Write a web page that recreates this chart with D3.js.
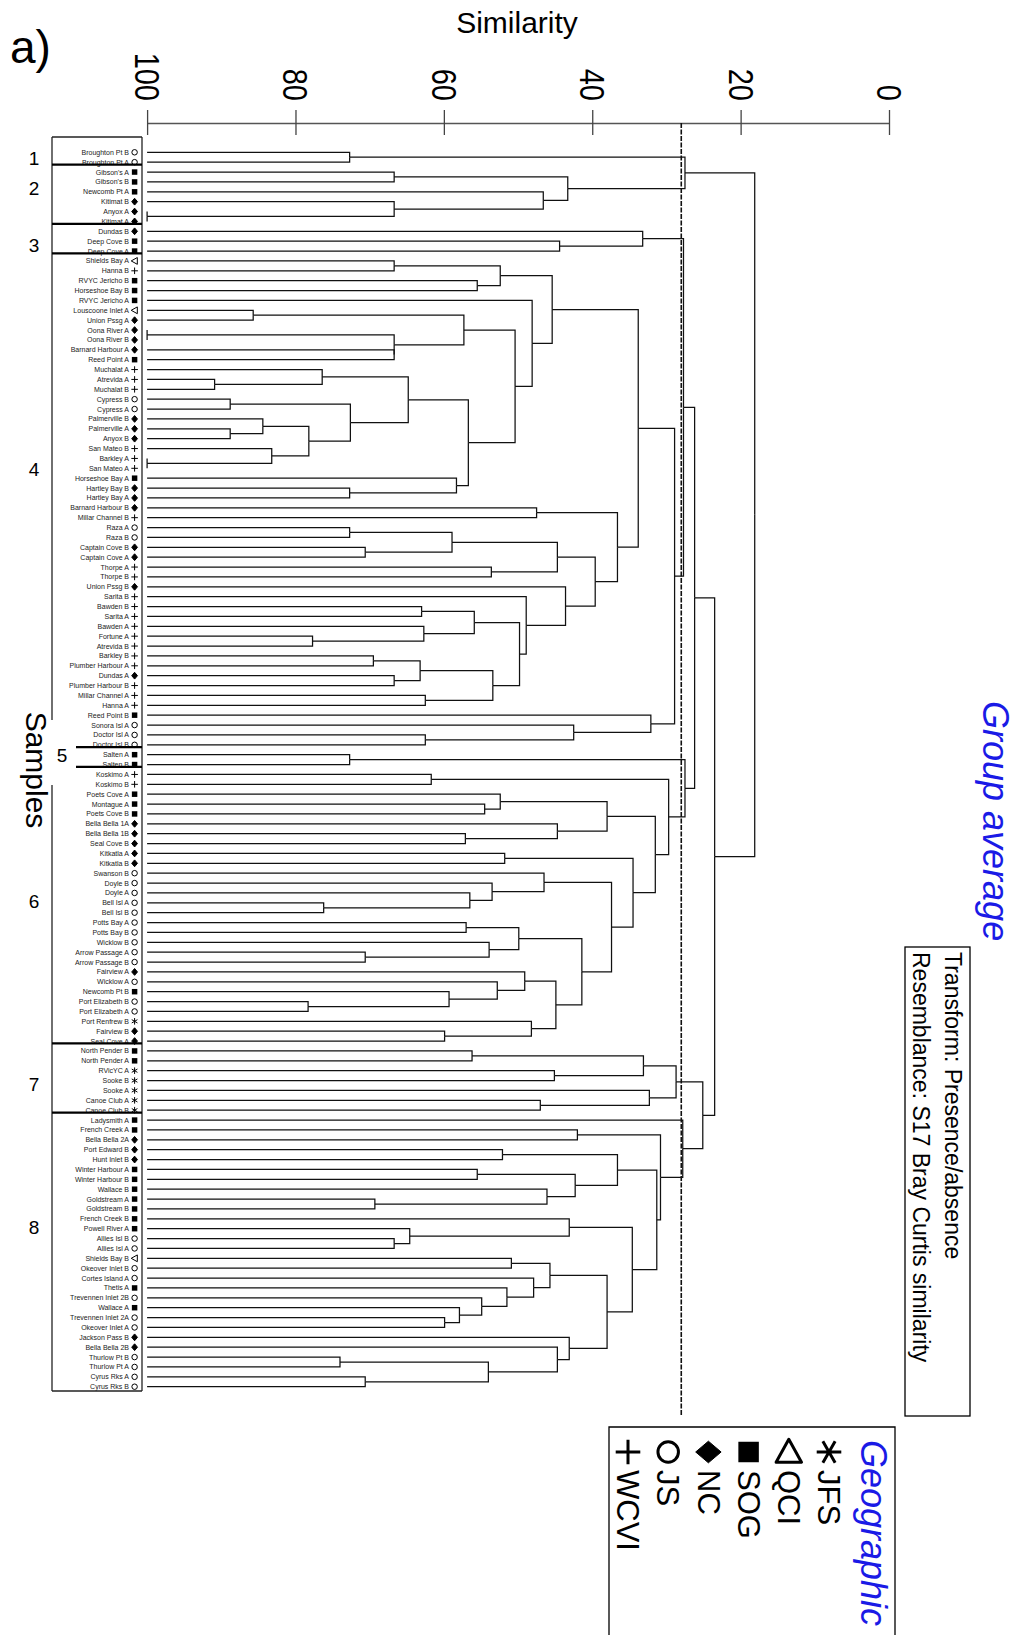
<!DOCTYPE html>
<html>
<head>
<meta charset="utf-8">
<script src="https://cdn.jsdelivr.net/npm/d3@7"></script>
<style>
  body { margin: 0; background: #fff; }
  svg { display: block; }
  text { font-family: "Liberation Sans", Arial, sans-serif; }
</style>
</head>
<body>
<div id="chart"></div>
<script>
// ---- Samples, in dendrogram order (top to bottom) ----
const sampleNames = [
  "Broughton Pt B","Broughton Pt A","Gibson's A","Gibson's B","Newcomb Pt A","Kitimat B","Anyox A","Kitimat A",
  "Dundas B","Deep Cove B","Deep Cove A",
  "Shields Bay A","Hanna B","RVYC Jericho B","Horseshoe Bay B","RVYC Jericho A","Louscoone Inlet A","Union Pssg A",
  "Oona River A","Oona River B","Barnard Harbour A","Reed Point A","Muchalat A","Atrevida A","Muchalat B",
  "Cypress B","Cypress A","Palmerville B","Palmerville A","Anyox B","San Mateo B","Barkley A","San Mateo A",
  "Horseshoe Bay A","Hartley Bay B","Hartley Bay A","Barnard Harbour B","Millar Channel B","Raza A","Raza B",
  "Captain Cove B","Captain Cove A","Thorpe A","Thorpe B","Union Pssg B","Sarita B","Bawden B","Sarita A",
  "Bawden A","Fortune A","Atrevida B","Barkley B","Plumber Harbour A","Dundas A","Plumber Harbour B",
  "Millar Channel A","Hanna A","Reed Point B","Sonora Isl A","Doctor Isl A","Doctor Isl B",
  "Salten A","Salten B",
  "Koskimo A","Koskimo B","Poets Cove A","Montague A","Poets Cove B","Bella Bella 1A","Bella Bella 1B",
  "Seal Cove B","Kitkatla A","Kitkatla B","Swanson B","Doyle B","Doyle A","Bell Isl A","Bell Isl B",
  "Potts Bay A","Potts Bay B","Wicklow B","Arrow Passage A","Arrow Passage B","Fairview A","Wicklow A",
  "Newcomb Pt B","Port Elizabeth B","Port Elizabeth A","Port Renfrew B","Fairview B","Seal Cove A",
  "North Pender B","North Pender A","RVicYC A","Sooke B","Sooke A","Canoe Club A","Canoe Club B",
  "Ladysmith A","French Creek A","Bella Bella 2A","Port Edward B","Hunt Inlet B","Winter Harbour A",
  "Winter Harbour B","Wallace B","Goldstream A","Goldstream B","French Creek B","Powell River A",
  "Allies Isl B","Allies Isl A","Shields Bay B","Okeover Inlet B","Cortes Island A","Thetis A",
  "Trevennen Inlet 2B","Wallace A","Trevennen Inlet 2A","Okeover Inlet A","Jackson Pass B","Bella Bella 2B",
  "Thurlow Pt B","Thurlow Pt A","Cyrus Rks A","Cyrus Rks B"
];

// Geographic region of each sample
const sampleRegions = [
  "JS","JS","SOG","SOG","SOG","NC","NC","NC",
  "NC","SOG","SOG",
  "QCI","WCVI","SOG","SOG","SOG","QCI","NC",
  "NC","NC","NC","SOG","WCVI","WCVI","WCVI",
  "JS","JS","NC","NC","NC","WCVI","WCVI","WCVI",
  "SOG","NC","NC","NC","WCVI","JS","JS",
  "NC","NC","WCVI","WCVI","NC","WCVI","WCVI","WCVI",
  "WCVI","WCVI","WCVI","WCVI","WCVI","NC","WCVI",
  "WCVI","WCVI","SOG","JS","JS","JS",
  "SOG","SOG",
  "WCVI","WCVI","SOG","SOG","SOG","NC","NC",
  "NC","NC","NC","JS","JS","JS","JS","JS",
  "JS","JS","JS","JS","JS","NC","JS",
  "SOG","JS","JS","JFS","NC","NC",
  "SOG","SOG","JFS","JFS","JFS","JFS","JFS",
  "SOG","SOG","NC","NC","NC","SOG",
  "SOG","SOG","SOG","SOG","SOG","SOG",
  "JS","JS","QCI","JS","JS","SOG",
  "JS","SOG","JS","JS","NC","NC",
  "JS","JS","JS","JS"
];

// Agglomeration steps: [upper member, lower member, % similarity].
// A number is a sample index, "mK" is the cluster formed at step K.
const merges = [
  [0, 1, 72.7],            // m0
  [2, 3, 66.7],            // m1
  [6, 7, 100],             // m2
  [5, "m2", 66.7],         // m3
  [4, "m3", 46.6],         // m4
  ["m1", "m4", 43.3],      // m5
  ["m0", "m5", 27.5],      // m6
  [9, 10, 44.4],           // m7
  [8, "m7", 33.2],         // m8
  [11, 12, 66.7],          // m9
  [13, 14, 55.5],          // m10
  ["m9", "m10", 52.4],     // m11
  [16, 17, 85.7],          // m12
  [18, 19, 100],           // m13
  [20, 21, 66.7],          // m14
  ["m13", "m14", 66.7],    // m15
  ["m12", "m15", 57.3],    // m16
  [23, 24, 90.9],          // m17
  [22, "m17", 76.4],       // m18
  [25, 26, 88.8],          // m19
  [28, 29, 88.8],          // m20
  [27, "m20", 84.4],       // m21
  [31, 32, 100],           // m22
  [30, "m22", 83.2],       // m23
  ["m21", "m23", 78.2],    // m24
  ["m19", "m24", 72.6],    // m25
  ["m18", "m25", 64.8],    // m26
  [34, 35, 72.7],          // m27
  [33, "m27", 58.3],       // m28
  ["m26", "m28", 56.7],    // m29
  ["m16", "m29", 50.4],    // m30
  [15, "m30", 48.1],       // m31
  ["m11", "m31", 45.4],    // m32
  [36, 37, 47.5],          // m33
  [38, 39, 72.7],          // m34
  [40, 41, 70.6],          // m35
  ["m34", "m35", 58.9],    // m36
  [42, 43, 53.6],          // m37
  ["m36", "m37", 44.7],    // m38
  [46, 47, 63.0],          // m39
  [49, 50, 77.7],          // m40
  [48, "m40", 62.7],       // m41
  ["m39", "m41", 55.9],    // m42
  [51, 52, 69.5],          // m43
  [53, 54, 66.7],          // m44
  ["m43", "m44", 63.2],    // m45
  [55, 56, 62.5],          // m46
  ["m45", "m46", 53.4],    // m47
  ["m42", "m47", 49.8],    // m48
  [45, "m48", 48.9],       // m49
  [44, "m49", 43.6],       // m50
  ["m38", "m50", 39.6],    // m51
  ["m33", "m51", 36.6],    // m52
  ["m32", "m52", 33.8],    // m53
  [59, 60, 62.5],          // m54
  [58, "m54", 42.5],       // m55
  [57, "m55", 32.1],       // m56
  ["m53", "m56", 28.9],    // m57
  ["m8", "m57", 27.7],     // m58
  [61, 62, 72.7],          // m59
  [63, 64, 61.7],          // m60
  [66, 67, 54.5],          // m61
  [65, "m61", 52.4],       // m62
  [69, 70, 57.1],          // m63
  [68, "m63", 44.7],       // m64
  ["m62", "m64", 38.0],    // m65
  [71, 72, 51.8],          // m66
  [76, 77, 76.2],          // m67
  [75, "m67", 56.5],       // m68
  [74, "m68", 53.5],       // m69
  [73, "m69", 46.5],       // m70
  [78, 79, 57.0],          // m71
  [81, 82, 70.6],          // m72
  [80, "m72", 53.9],       // m73
  ["m71", "m73", 49.9],    // m74
  [86, 87, 78.3],          // m75
  [85, "m75", 59.3],       // m76
  [84, "m76", 52.8],       // m77
  [83, "m77", 49.1],       // m78
  [89, 90, 59.9],          // m79
  [88, "m79", 48.2],       // m80
  ["m78", "m80", 44.9],    // m81
  ["m74", "m81", 41.4],    // m82
  ["m70", "m82", 37.4],    // m83
  ["m66", "m83", 34.5],    // m84
  ["m65", "m84", 31.5],    // m85
  ["m60", "m85", 29.7],    // m86
  ["m59", "m86", 27.5],    // m87
  ["m58", "m87", 26.2],    // m88
  [91, 92, 56.2],          // m89
  [93, 94, 45.1],          // m90
  ["m89", "m90", 33.1],    // m91
  [96, 97, 47.0],          // m92
  [95, "m92", 32.3],       // m93
  ["m91", "m93", 28.7],    // m94
  [99, 100, 42.0],         // m95
  [101, 102, 52.1],        // m96
  [103, 104, 55.5],        // m97
  [106, 107, 69.3],        // m98
  [105, "m98", 46.1],      // m99
  ["m97", "m99", 42.3],    // m100
  ["m96", "m100", 36.6],   // m101
  [110, 111, 66.7],        // m102
  [109, "m102", 64.6],     // m103
  [108, "m103", 43.1],     // m104
  [112, 113, 50.9],        // m105
  [118, 119, 59.9],        // m106
  [117, "m106", 57.9],     // m107
  [116, "m107", 54.9],     // m108
  [115, "m108", 51.5],     // m109
  [114, "m109", 47.9],     // m110
  ["m105", "m110", 45.7],  // m111
  [122, 123, 74.0],        // m112
  [124, 125, 70.6],        // m113
  ["m112", "m113", 54.0],  // m114
  [121, "m114", 44.7],     // m115
  [120, "m115", 43.1],     // m116
  ["m111", "m116", 38.0],  // m117
  ["m104", "m117", 34.6],  // m118
  ["m101", "m118", 31.3],  // m119
  ["m95", "m119", 30.8],   // m120
  [98, "m120", 27.8],      // m121
  ["m94", "m121", 25.1],   // m122
  ["m88", "m122", 23.5],   // m123
  ["m6", "m123", 18.1]     // m124
];

// Groups formed at the similarity cut
const groupNames = ["1", "2", "3", "4", "5", "6", "7", "8"];
const groupLastSample = [1, 7, 10, 60, 62, 90, 97, 125];
const groupLabelRow = [0.6, 3.6, 9.4, 32.1, 61.1, 75.9, 94.4, 108.9];
const cutSimilarity = 28;

const simTicks = [100, 80, 60, 40, 20, 0];
const regionCodes = ["JFS", "QCI", "SOG", "NC", "JS", "WCVI"];
const infoLines = ["Transform: Presence/absence", "Resemblance: S17 Bray Curtis similarity"];

// ---- Drawing ----
const W = 1016, H = 1635;
const BLUE = "#1a1ae6";
const svg = d3.select("#chart").append("svg").attr("width", W).attr("height", H);

const xSim = d3.scaleLinear().domain([100, 0]).range([147.1, 889]);
const yRow = d3.scalePoint().domain(d3.range(sampleNames.length)).range([152.3, 1386.7]);
const yRowLin = d3.scaleLinear().domain([0, sampleNames.length - 1]).range([152.3, 1386.7]);

// Marker shapes for the regions
const shapeTriangleLeft = {
  draw(ctx, size) {
    const r = Math.sqrt(size) * 0.62;
    ctx.moveTo(-r, 0); ctx.lineTo(r * 0.8, -r); ctx.lineTo(r * 0.8, r); ctx.closePath();
  }
};
const shapeCircle = { draw(ctx, size) { const r = Math.sqrt(size) * 0.5; ctx.moveTo(r, 0); ctx.arc(0, 0, r, 0, 2 * Math.PI); } };
const shapeSquare = { draw(ctx, size) { const h = Math.sqrt(size) * 0.5; ctx.rect(-h, -h, 2 * h, 2 * h); } };
const shapeDiamond = {
  draw(ctx, size) {
    const r = Math.sqrt(size) * 0.62;
    ctx.moveTo(0, -r); ctx.lineTo(r * 0.85, 0); ctx.lineTo(0, r); ctx.lineTo(-r * 0.85, 0); ctx.closePath();
  }
};
const shapePlus = {
  draw(ctx, size) {
    const r = Math.sqrt(size) * 0.6;
    ctx.moveTo(-r, 0); ctx.lineTo(r, 0); ctx.moveTo(0, -r); ctx.lineTo(0, r);
  }
};
const shapeAsterisk = {
  draw(ctx, size) {
    const r = Math.sqrt(size) * 0.6;
    ctx.moveTo(0, -r); ctx.lineTo(0, r);
    const dx = r * Math.cos(Math.PI / 6), dy = r * Math.sin(Math.PI / 6);
    ctx.moveTo(-dx, -dy); ctx.lineTo(dx, dy);
    ctx.moveTo(-dx, dy); ctx.lineTo(dx, -dy);
  }
};
const regionStyle = {
  JFS:  { type: shapeAsterisk, fill: "none", stroke: "#000" },
  QCI:  { type: shapeTriangleLeft, fill: "none", stroke: "#000" },
  SOG:  { type: shapeSquare, fill: "#000", stroke: "none" },
  NC:   { type: shapeDiamond, fill: "#000", stroke: "#000" },
  JS:   { type: shapeCircle, fill: "none", stroke: "#000" },
  WCVI: { type: shapePlus, fill: "none", stroke: "#000" }
};
function marker(sel, code, size, sw) {
  const st = regionStyle[code];
  sel.append("path")
    .attr("d", d3.symbol().type(st.type).size(size)())
    .attr("fill", st.fill).attr("stroke", st.stroke)
    .attr("stroke-width", st.fill === "none" ? sw : 1)
    .attr("stroke-linejoin", "round");
}

// ---- Panel letter and axis title ----
svg.append("text").attr("x", 10).attr("y", 63).attr("font-size", 46).text("a)");
svg.append("text").attr("x", 517).attr("y", 33).attr("text-anchor", "middle")
  .attr("font-size", 30).text("Similarity");

// ---- Similarity axis ----
const axisG = svg.append("g").attr("transform", "translate(0,123)")
  .call(d3.axisTop(xSim).tickValues(simTicks).tickSize(13).tickSizeOuter(0).tickFormat(d3.format("d")));
axisG.select(".domain").attr("stroke", "#555").attr("stroke-width", 1.6);
axisG.selectAll(".tick line").attr("y1", 12).attr("y2", -13).attr("stroke", "#444").attr("stroke-width", 1.3);
axisG.selectAll(".tick text")
  .attr("font-family", "'Liberation Sans', Arial, sans-serif")
  .attr("font-size", 29).attr("fill", "#000")
  .attr("x", 0).attr("y", 0).attr("dy", "0.36em")
  .attr("text-anchor", "end")
  .attr("transform", "translate(0,-22) rotate(90) scale(1,1.2)");

// ---- Cut line ----
svg.append("line")
  .attr("x1", xSim(cutSimilarity)).attr("x2", xSim(cutSimilarity))
  .attr("y1", 123).attr("y2", 1416)
  .attr("stroke", "#111").attr("stroke-width", 1.6).attr("stroke-dasharray", "5,1.5");

// ---- Dendrogram ----
const steps = [];
const ref = r => (typeof r === "number" ? { sample: r } : steps[+r.slice(1)]);
merges.forEach(([a, b, s]) => steps.push({ sim: s, children: [ref(a), ref(b)] }));
const root = d3.hierarchy(steps[steps.length - 1]);
root.eachAfter(d => {
  if (d.children) {
    d.py = d3.mean(d.children, c => c.py);
    d.px = xSim(d.data.sim);
  } else {
    d.py = yRow(d.data.sample);
    d.px = xSim(100);
  }
});
svg.append("g").attr("fill", "none").attr("stroke", "#111").attr("stroke-width", 1.25)
  .selectAll("path").data(root.links()).join("path")
  .attr("d", l => `M${l.target.px},${l.target.py}H${l.source.px}V${l.source.py}`);

// ---- Sample labels with region markers ----
const leafG = svg.append("g");
sampleNames.forEach((name, i) => {
  const y = yRow(i);
  leafG.append("text").attr("x", 129).attr("y", y).attr("dy", "0.35em")
    .attr("text-anchor", "end").attr("font-size", 7).attr("fill", "#222").text(name);
  const m = leafG.append("g").attr("transform", `translate(134.6,${y})`);
  marker(m, sampleRegions[i], 30, 1);
});

// ---- Group frame ----
const frame = svg.append("g").attr("stroke", "#222").attr("fill", "none");
frame.append("line").attr("x1", 52).attr("x2", 142).attr("y1", 137).attr("y2", 137).attr("stroke-width", 1.3);
frame.append("line").attr("x1", 52).attr("x2", 142).attr("y1", 1391).attr("y2", 1391).attr("stroke-width", 1.3);
frame.append("line").attr("x1", 142).attr("x2", 142).attr("y1", 137).attr("y2", 1391).attr("stroke-width", 1.3);
frame.append("line").attr("x1", 52).attr("x2", 52).attr("y1", 137).attr("y2", 720).attr("stroke-width", 1.3);
frame.append("line").attr("x1", 52).attr("x2", 52).attr("y1", 785).attr("y2", 1391).attr("stroke-width", 1.3);
groupLastSample.slice(0, -1).forEach((last, gi) => {
  const y = yRow(last) + 2.4;
  const inner = gi === 3 || gi === 4;
  frame.append("line").attr("x1", inner ? 76 : 52).attr("x2", 142)
    .attr("y1", y).attr("y2", y).attr("stroke", "#000").attr("stroke-width", 2.2);
});
groupNames.forEach((g, gi) => {
  svg.append("text")
    .attr("x", gi === 4 ? 62 : 34).attr("y", yRowLin(groupLabelRow[gi])).attr("dy", "0.35em")
    .attr("text-anchor", "middle").attr("font-family", "'Liberation Serif', 'Times New Roman', serif")
    .attr("font-size", 19).text(g);
});
svg.append("text").attr("transform", "translate(36,770) rotate(90)")
  .attr("text-anchor", "middle").attr("dy", "0.35em").attr("font-size", 30).text("Samples");

// ---- Method annotations ----
svg.append("text").attr("transform", "translate(996,701) rotate(90)")
  .attr("dy", "0.35em").attr("font-size", 36).attr("font-style", "italic").attr("fill", BLUE)
  .text("Group average");
svg.append("rect").attr("x", 905).attr("y", 947).attr("width", 65).attr("height", 469)
  .attr("fill", "none").attr("stroke", "#000").attr("stroke-width", 1.3);
infoLines.forEach((t, i) => {
  svg.append("text").attr("transform", `translate(${953 - i * 32},952) rotate(90)`)
    .attr("dy", "0.35em").attr("font-size", 23).text(t);
});

// ---- Legend ----
const lg = svg.append("g");
lg.append("path").attr("d", "M609,1640V1427H895V1640")
  .attr("fill", "none").attr("stroke", "#000").attr("stroke-width", 1.3);
lg.append("text").attr("transform", "translate(874,1440) rotate(90)")
  .attr("dy", "0.35em").attr("font-size", 36).attr("font-style", "italic").attr("fill", BLUE)
  .text("Geographic");
const legendX = d3.scalePoint().domain(regionCodes).range([829, 628]);
regionCodes.forEach(code => {
  const cx = legendX(code);
  const m = lg.append("g").attr("transform", `translate(${cx},1452) rotate(90)`);
  marker(m, code, 420, 3);
  lg.append("text").attr("transform", `translate(${cx},1470) rotate(90)`)
    .attr("dy", "0.35em").attr("font-size", 31).text(code);
});
</script>
</body>
</html>
